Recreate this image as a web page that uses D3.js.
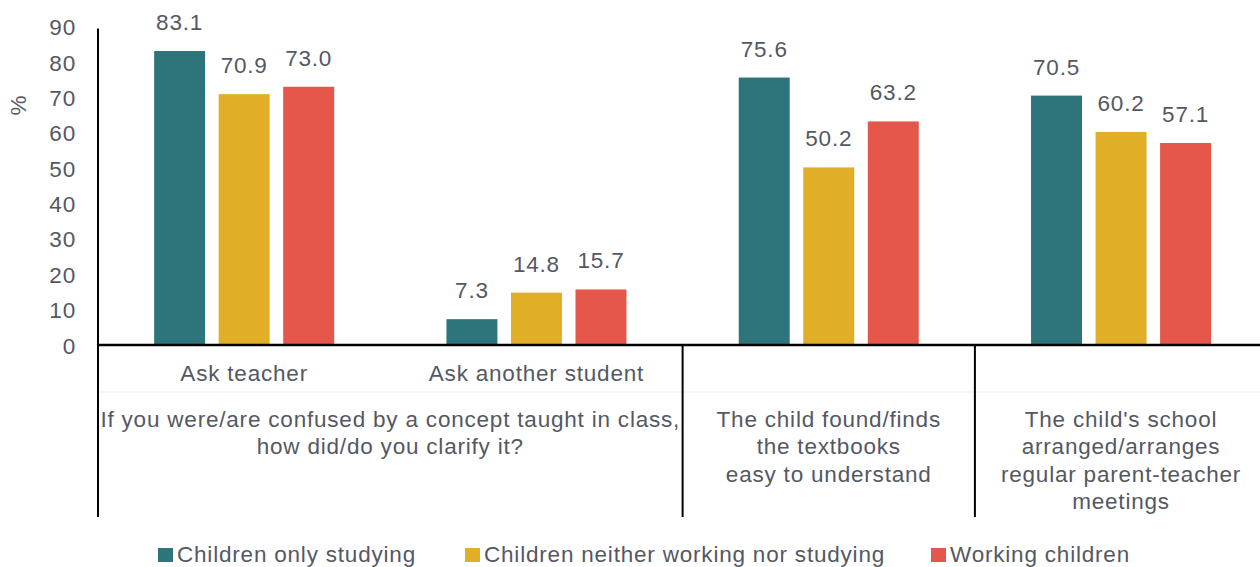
<!DOCTYPE html>
<html>
<head>
<meta charset="utf-8">
<script src="https://cdn.jsdelivr.net/npm/d3@7"></script>
<style>
  html, body { margin: 0; padding: 0; background: #fff; }
  svg { display: block; font-family: "Liberation Sans", Arial, sans-serif; }
  svg text { font-size: 22.5px; letter-spacing: 0.8px; fill: #545863; }
</style>
</head>
<body>
<svg id="chart" width="1260" height="567"></svg>
<script>
// Categories (one per bar group)
const categories = ["Ask teacher", "Ask another student", "textbooks", "meetings"];

// Series and their values per category
const seriesNames = ["Children only studying", "Children neither working nor studying", "Working children"];
const onlyStudying = [83.1, 7.3, 75.6, 70.5];
const neitherWorkingNorStudying = [70.9, 14.8, 50.2, 60.2];
const workingChildren = [73.0, 15.7, 63.2, 57.1];
const seriesColors = ["#2e747b", "#e1ae28", "#e4574a"];

// Axis ticks
const yTicks = [0, 10, 20, 30, 40, 50, 60, 70, 80, 90];

// Two-level category labels
const subLabels = ["Ask teacher", "Ask another student", "", ""];
const groupLabels = [
  { from: 0, to: 1, lines: ["If you were/are confused by a concept taught in class,", "how did/do you clarify it?"] },
  { from: 2, to: 2, lines: ["The child found/finds", "the textbooks", "easy to understand"] },
  { from: 3, to: 3, lines: ["The child's school", "arranged/arranges", "regular parent-teacher", "meetings"] }
];

const values = [onlyStudying, neitherWorkingNorStudying, workingChildren];

const svg = d3.select("#chart");
const plotLeft = 98, plotRight = 98 + 4 * 292.3, plotBase = 345, plotTop = 26.6;

const x0 = d3.scaleBand().domain(d3.range(categories.length)).range([plotLeft, plotRight]).paddingInner(0).paddingOuter(0);
const x1 = d3.scaleBand().domain(d3.range(seriesNames.length)).range([0, x0.bandwidth()])
  .paddingInner(0.21).paddingOuter(0.87);
const y = d3.scaleLinear().domain([0, 90]).range([plotBase, plotTop]);

// Y tick labels
const yAxis = d3.axisLeft(y).tickValues(yTicks).tickSize(0).tickPadding(0).tickFormat(d3.format("d"));
const gy = svg.append("g").attr("transform", `translate(76,0)`).call(yAxis);
gy.select(".domain").remove();
gy.attr("font-size", null).attr("font-family", null);
gy.selectAll("text").attr("fill", null).attr("dy", "0.36em");

// Y axis title
svg.append("text").attr("transform", `translate(26,105) rotate(-90)`)
  .attr("text-anchor", "middle").text("%");

// Bars
seriesNames.forEach((name, s) => {
  const g = svg.append("g");
  g.selectAll("rect").data(values[s]).join("rect")
    .attr("x", (d, i) => x0(i) + x1(s))
    .attr("y", d => y(d))
    .attr("width", x1.bandwidth())
    .attr("height", d => plotBase - y(d))
    .attr("fill", seriesColors[s]);
  g.selectAll("text").data(values[s]).join("text")
    .attr("x", (d, i) => x0(i) + x1(s) + x1.bandwidth() / 2)
    .attr("y", d => y(d) - 21)
    .attr("text-anchor", "middle")
    .text(d => d3.format(".1f")(d));
});

// Faint divider between label rows
svg.append("line").attr("x1", plotLeft).attr("x2", 1260).attr("y1", 392).attr("y2", 392)
  .attr("stroke", "#efefef").attr("stroke-width", 1);

// Category axis baseline and the left axis line
svg.append("line").attr("x1", plotLeft).attr("x2", 1260).attr("y1", plotBase).attr("y2", plotBase)
  .attr("stroke", "#000").attr("stroke-width", 2.5);
svg.append("line").attr("x1", plotLeft).attr("x2", plotLeft).attr("y1", plotTop + 2).attr("y2", 517)
  .attr("stroke", "#000").attr("stroke-width", 2);

// Group separators
[2, 3].forEach(i => {
  svg.append("line").attr("x1", x0(i)).attr("x2", x0(i)).attr("y1", plotBase).attr("y2", 517)
    .attr("stroke", "#000").attr("stroke-width", 2);
});

// First-level labels
svg.append("g").selectAll("text").data(subLabels).join("text")
  .attr("x", (d, i) => x0(i) + x0.bandwidth() / 2)
  .attr("y", 381)
  .attr("text-anchor", "middle")
  .text(d => d);

// Second-level labels
groupLabels.forEach(gl => {
  const cx = (x0(gl.from) + x0(gl.to) + x0.bandwidth()) / 2;
  const t = svg.append("text").attr("text-anchor", "middle");
  gl.lines.forEach((line, k) => {
    t.append("tspan").attr("x", cx).attr("y", 427 + k * 27.3).text(line);
  });
});

// Legend
const legendX = [158, 465, 931];
const lg = svg.append("g");
seriesNames.forEach((name, s) => {
  lg.append("rect").attr("x", legendX[s]).attr("y", 548).attr("width", 15).attr("height", 14).attr("fill", seriesColors[s]);
  lg.append("text").attr("x", legendX[s] + 19).attr("y", 562).text(name);
});
</script>
</body>
</html>
